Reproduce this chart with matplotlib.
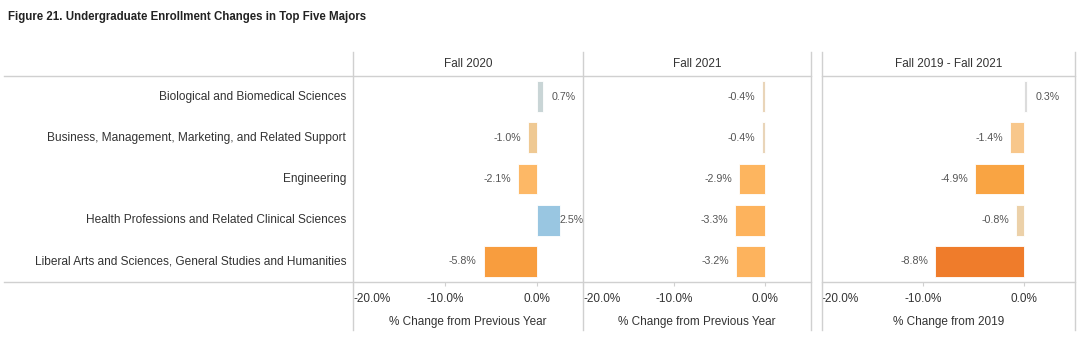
import matplotlib
matplotlib.use("Agg")
import matplotlib.pyplot as plt
from matplotlib.lines import Line2D

plt.rcParams['font.family'] = ['Liberation Sans', 'DejaVu Sans']

majors = ["Biological and Biomedical Sciences",
          "Business, Management, Marketing, and Related Support",
          "Engineering",
          "Health Professions and Related Clinical Sciences",
          "Liberal Arts and Sciences, General Studies and Humanities"]
panels = ["Fall 2020", "Fall 2021", "Fall 2019 - Fall 2021"]
xtitles = ["% Change from Previous Year", "% Change from Previous Year", "% Change from 2019"]
fall2020 = [0.7, -1.0, -2.1, 2.5, -5.8]
fall2021 = [-0.4, -0.4, -2.9, -3.3, -3.2]
since2019 = [0.3, -1.4, -4.9, -0.8, -8.8]
colors2020 = ["#c9d5d6", "#efc993", "#fdb866", "#99c6e1", "#f89d3e"]
colors2021 = ["#e9d5b9", "#e9d5b9", "#fdb55f", "#fdb35d", "#fdb35d"]
colors1921 = ["#dcdcdc", "#f8c78b", "#f9a443", "#ecd1a9", "#ef7c2b"]
ticks = [-20, -10, 0]

W, H = 1080, 342
fig = plt.figure(figsize=(W / 100, H / 100), dpi=100)

def fx(px):
    return px / W

def fy(py):
    return 1 - py / H

top, bot = 76, 282
boxes = [(353, 583), (583, 811), (822, 1075)]
data = [fall2020, fall2021, since2019]
cols = [colors2020, colors2021, colors1921]
gray = "#d0d0d0"

fig.text(fx(8), fy(17), "Figure 21. Undergraduate Enrollment Changes in Top Five Majors",
         fontsize=8.3, fontweight="bold", color="#222222", va="center", ha="left")

ypos = list(range(len(majors)))
for i, ((x0, x1), vals, cl) in enumerate(zip(boxes, data, cols)):
    ax = fig.add_axes([fx(x0), fy(bot), fx(x1 - x0), fy(top) - fy(bot)])
    ax.barh(ypos, vals, height=0.75, color=cl, edgecolor="white", linewidth=0.6)
    ax.set_xlim(-20, 5)
    ax.set_ylim(len(majors) - 0.5, -0.5)
    for y, v in zip(ypos, vals):
        if v < 0:
            ax.annotate(f"{v:.1f}%", (v, y), xytext=(-5, 0), textcoords="offset points",
                        ha="right", va="center", fontsize=7.7, color="#555555")
        else:
            off = 0 if v > 2 else 6
            ax.annotate(f"{v:.1f}%", (v, y), xytext=(off, 0), textcoords="offset points",
                        ha="left", va="center", fontsize=7.7, color="#555555")
    ax.set_yticks([])
    ax.set_xticks(ticks)
    ax.set_xticklabels([f"{t:.1f}%" for t in ticks], fontsize=8.5, color="#333333")
    ax.get_xticklabels()[0].set_horizontalalignment("left")
    ax.tick_params(axis="x", length=3, color=gray, pad=5)
    for s in ax.spines.values():
        s.set_visible(False)
    ax.set_xlabel(xtitles[i], fontsize=8.5, color="#333333", labelpad=8)
    fig.text(fx((x0 + x1) / 2), fy(64), panels[i], fontsize=8.5, color="#333333",
             ha="center", va="center")
    if i == 0:
        for y, m in zip(ypos, majors):
            ax.annotate(m, (-20, y), xytext=(-5, 0), textcoords="offset points",
                        ha="right", va="center", fontsize=8.6, color="#333333")

# frame lines
for yl in (top, bot):
    fig.add_artist(Line2D([fx(4), fx(811)], [fy(yl), fy(yl)], color=gray, lw=1))
    fig.add_artist(Line2D([fx(822), fx(1075)], [fy(yl), fy(yl)], color=gray, lw=1))
for xl in (353, 583, 811, 822, 1075):
    fig.add_artist(Line2D([fx(xl), fx(xl)], [fy(52), fy(330)], color=gray, lw=1))

fig.savefig("out.png", dpi=100)
